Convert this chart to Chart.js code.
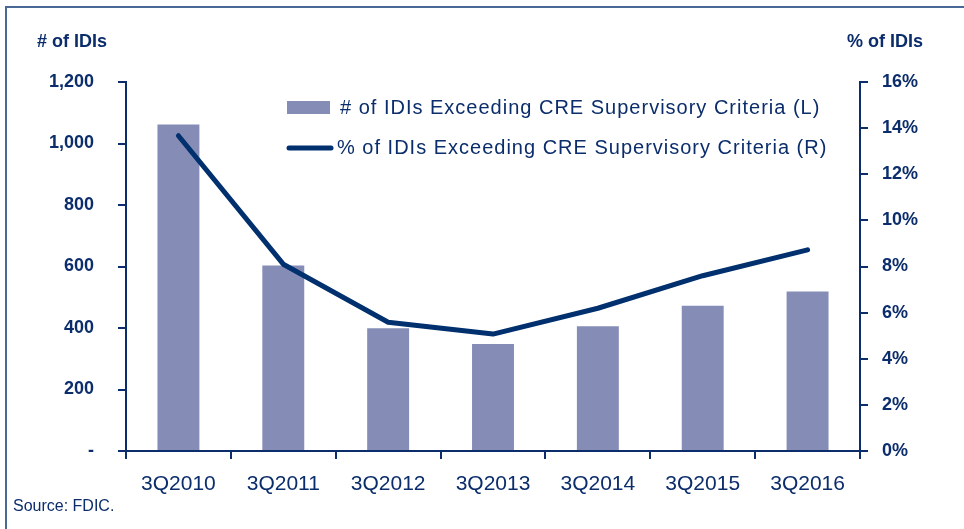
<!DOCTYPE html>
<html>
<head>
<meta charset="utf-8">
<script src="https://cdn.jsdelivr.net/npm/chart.js@4.4.1/dist/chart.umd.min.js"></script>
<style>
  html, body { margin: 0; padding: 0; background: #fff; }
  canvas { display: block; }
</style>
</head>
<body>
<canvas id="myChart" width="964" height="529"></canvas>
<script>
// data
var categories = ['3Q2010', '3Q2011', '3Q2012', '3Q2013', '3Q2014', '3Q2015', '3Q2016'];
var idiCounts = [1062, 603, 399, 348, 406, 472, 519];
var idiPercents = [13.67, 8.1, 5.58, 5.07, 6.19, 7.6, 8.72];
var countLabel = '# of IDIs Exceeding CRE Supervisory Criteria (L)';
var percentLabel = '% of IDIs Exceeding CRE Supervisory Criteria (R)';

var navy = '#0b2d6b';
var lineColor = '#00306e';
var barColor = '#858db7';
var sans = '"Liberation Sans", Arial, sans-serif';

// frame, axis titles, source note and the legend in the plot area
var extras = {
    id: 'extras',
    afterDraw: function (chart) {
        var ctx = chart.ctx;
        var area = chart.chartArea;
        ctx.save();

        // frame lines (left and top)
        ctx.strokeStyle = '#4a6896';
        ctx.lineWidth = 2;
        ctx.beginPath();
        ctx.moveTo(6, chart.height);
        ctx.lineTo(6, 7);
        ctx.lineTo(chart.width, 7);
        ctx.stroke();

        ctx.fillStyle = navy;
        ctx.textBaseline = 'middle';
        ctx.font = 'bold 18px ' + sans;
        ctx.textAlign = 'left';
        ctx.fillText('# of IDIs', 37, 42);
        ctx.textAlign = 'right';
        ctx.fillText('% of IDIs', 923, 42);

        ctx.font = '16px ' + sans;
        ctx.textAlign = 'left';
        ctx.fillText('Source: FDIC.', 13, 507);

        // legend
        var bar = chart.data.datasets[1];
        var line = chart.data.datasets[0];
        var lx = area.left + 161;
        ctx.fillStyle = bar.backgroundColor;
        ctx.fillRect(lx, 101, 43, 13);
        ctx.strokeStyle = line.borderColor;
        ctx.lineWidth = 5;
        ctx.lineCap = 'round';
        ctx.beginPath();
        ctx.moveTo(lx + 2, 148);
        ctx.lineTo(lx + 44, 148);
        ctx.stroke();

        ctx.fillStyle = navy;
        ctx.font = '20px ' + sans;
        ctx.letterSpacing = '1px';
        ctx.fillText(bar.label, lx + 53, 108);
        ctx.fillText(line.label, lx + 50, 148);
        ctx.restore();
    }
};

var ctx = document.getElementById('myChart').getContext('2d');
window.myChart = new Chart(ctx, {
    type: 'bar',
    data: {
        labels: categories,
        datasets: [{
            type: 'line',
            label: percentLabel,
            data: idiPercents,
            yAxisID: 'yR',
            borderColor: lineColor,
            backgroundColor: lineColor,
            borderWidth: 5,
            borderCapStyle: 'round',
            borderJoinStyle: 'round',
            pointRadius: 0,
            tension: 0,
            order: 0
        }, {
            label: countLabel,
            data: idiCounts,
            yAxisID: 'yL',
            backgroundColor: barColor,
            categoryPercentage: 1,
            barPercentage: 0.4,
            order: 1
        }]
    },
    options: {
        responsive: false,
        devicePixelRatio: 1,
        animation: false,
        layout: { padding: { top: 82, left: 0, right: 0, bottom: 0 } },
        plugins: {
            legend: { display: false },
            tooltip: { enabled: false }
        },
        scales: {
            x: {
                grid: { offset: true, drawOnChartArea: false, color: navy, lineWidth: 2, tickLength: 8 },
                border: { color: navy, width: 2 },
                ticks: { color: navy, font: { family: sans, size: 21 }, padding: 13, maxRotation: 0 },
                afterFit: function (s) { s.height = 78; }
            },
            yL: {
                position: 'left',
                min: 0,
                max: 1200,
                grid: { drawOnChartArea: false, color: navy, lineWidth: 2, tickLength: 8 },
                border: { color: navy, width: 2 },
                ticks: {
                    stepSize: 200,
                    padding: 24,
                    color: navy,
                    font: { family: sans, size: 18, weight: 'bold' },
                    callback: function (v) { return v === 0 ? '-' : v.toLocaleString('en-US'); }
                },
                afterFit: function (s) { s.width = 126; }
            },
            yR: {
                position: 'right',
                min: 0,
                max: 16,
                grid: { drawOnChartArea: false, color: navy, lineWidth: 2, tickLength: 8 },
                border: { color: navy, width: 2 },
                ticks: {
                    stepSize: 2,
                    padding: 14,
                    color: navy,
                    font: { family: sans, size: 18, weight: 'bold' },
                    callback: function (v) { return v + '%'; }
                },
                afterFit: function (s) { s.width = 104; }
            }
        }
    },
    plugins: [extras]
});
</script>
</body>
</html>
